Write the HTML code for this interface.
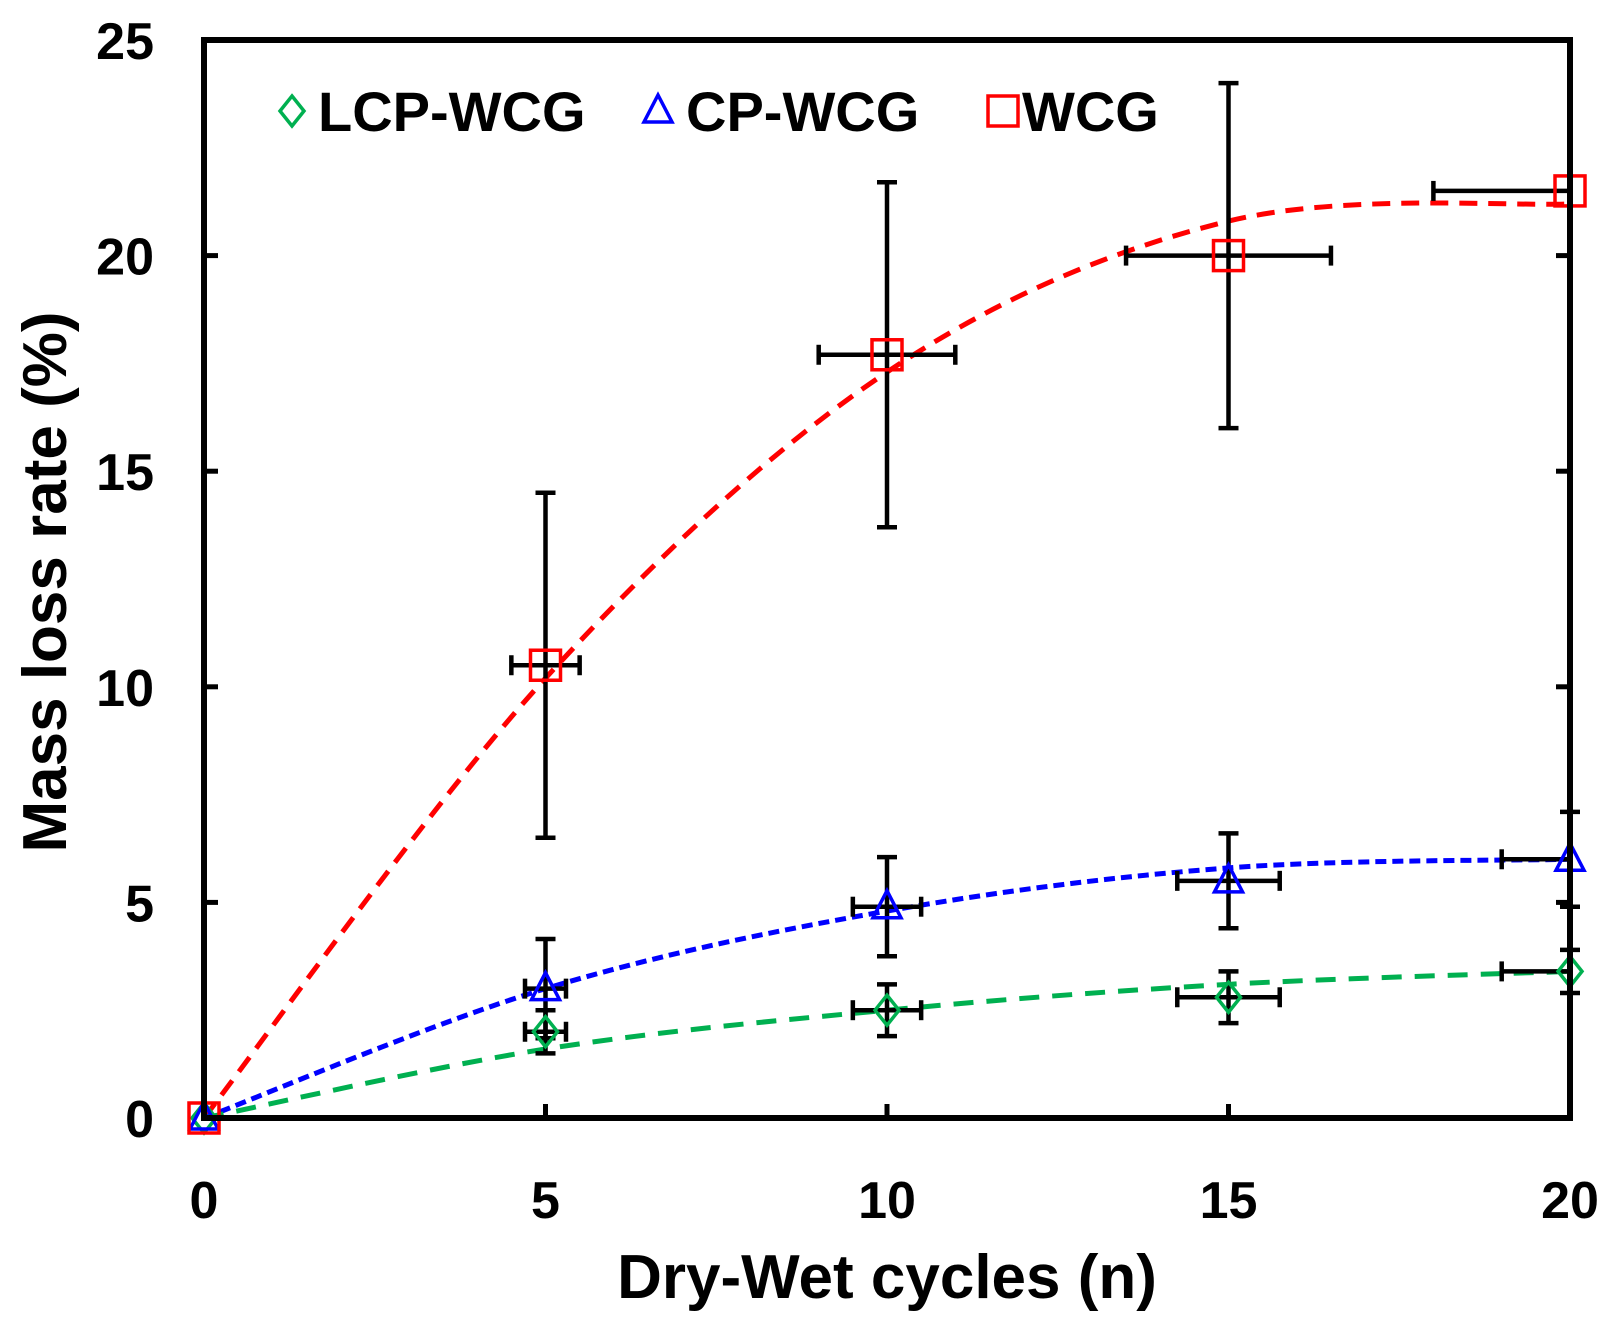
<!DOCTYPE html>
<html><head><meta charset="utf-8"><style>
html,body{margin:0;padding:0;background:#fff}
svg{display:block;font-family:"Liberation Sans",Arial,sans-serif}
</style></head><body>
<svg id="chart" width="1613" height="1326" viewBox="0 0 1613 1326" xmlns="http://www.w3.org/2000/svg">
<g id="curves"></g>
<g id="errs"></g>
<g id="marks"></g>
<g id="axes"></g>
<g id="legend"></g>
<text x="887" y="1298" text-anchor="middle" font-size="62" font-weight="bold">Dry-Wet cycles (n)</text>
<text transform="translate(66,582) rotate(-90)" text-anchor="middle" font-size="62" font-weight="bold">Mass loss rate (%)</text>
</svg>
<script>
const cycles=[0,5,10,15,20];
const wcg=[0,10.5,17.7,20.0,21.5];
const wcgYErr=[0,4.0,4.0,4.0,0];
const wcgXErr=[0,0.5,1.0,1.5,2.0];
const cp=[0,3.0,4.9,5.5,6.0];
const cpYErr=[0,1.15,1.15,1.1,1.1];
const cpXErr=[0,0.3,0.5,0.75,1.0];
const lcp=[0,2.0,2.5,2.8,3.4];
const lcpYErr=[0,0.5,0.6,0.6,0.5];
const lcpXErr=[0,0.3,0.5,0.75,1.0];
const wcgFit=[0,10.2,17.3,20.8,21.2];
const cpFit=[0,3.0,4.8,5.8,6.0];
const lcpFit=[0,1.6,2.5,3.1,3.4];
const xTicks=[0,5,10,15,20];
const yTicks=[0,5,10,15,20,25];

const X0=204,X1=1570,Y0=1118,Y1=40;
const sx=v=>X0+(X1-X0)*v/20;
const sy=v=>Y0-(Y0-Y1)*v/25;
const NS="http://www.w3.org/2000/svg";
function mk(tag,attrs,parent){const e=document.createElementNS(NS,tag);for(const k in attrs)e.setAttribute(k,attrs[k]);parent.appendChild(e);return e;}
const curves=document.getElementById('curves'),errs=document.getElementById('errs'),marks=document.getElementById('marks'),axes=document.getElementById('axes'),legend=document.getElementById('legend');

function smooth(xs,ys){
  const p=xs.map((x,i)=>[sx(x),sy(ys[i])]);
  let d=`M${p[0][0]},${p[0][1]}`;
  for(let i=0;i<p.length-1;i++){
    const p0=p[i-1]||p[i],p1=p[i],p2=p[i+1],p3=p[i+2]||p2;
    const c1=[p1[0]+(p2[0]-p0[0])/6,p1[1]+(p2[1]-p0[1])/6];
    const c2=[p2[0]-(p3[0]-p1[0])/6,p2[1]-(p3[1]-p1[1])/6];
    d+=` C${c1[0]},${c1[1]} ${c2[0]},${c2[1]} ${p2[0]},${p2[1]}`;
  }
  return d;
}
const series=[
 {name:'wcg',ys:wcg,fit:wcgFit,ye:wcgYErr,xe:wcgXErr,color:'#ff0000',dash:'18 11'},
 {name:'cp',ys:cp,fit:cpFit,ye:cpYErr,xe:cpXErr,color:'#0000ff',dash:'11 6'},
 {name:'lcp',ys:lcp,fit:lcpFit,ye:lcpYErr,xe:lcpXErr,color:'#00b050',dash:'20 13'}
];
series.forEach(s=>{
  const c=mk('path',{d:smooth(cycles,s.fit),fill:'none',stroke:s.color,'stroke-width':5,'stroke-dasharray':s.dash},curves);
  
  
});
series.forEach(s=>{
  cycles.forEach((x,i)=>{
    if(i===0)return;
    const cx=sx(x),cy=sy(s.ys[i]);
    const g=mk('g',{stroke:'#000','stroke-width':4.5},errs);
    
    
    if(s.ye[i]>0){
      const yt=sy(s.ys[i]+s.ye[i]),yb=sy(s.ys[i]-s.ye[i]);
      mk('line',{x1:cx,x2:cx,y1:yt,y2:yb},g);
      mk('line',{x1:cx-10,x2:cx+10,y1:yt,y2:yt},g);
      mk('line',{x1:cx-10,x2:cx+10,y1:yb,y2:yb},g);
    }
    const xl=sx(x-s.xe[i]),xr=Math.min(X1,sx(x+s.xe[i]));
    mk('line',{x1:xl,x2:xr,y1:cy,y2:cy},g);
    mk('line',{x1:xl,x2:xl,y1:cy-10,y2:cy+10},g);
    if(x+s.xe[i]<=20) mk('line',{x1:xr,x2:xr,y1:cy-10,y2:cy+10},g);
  });
});
function marker(kind,cx,cy,parent){
  let e;
  if(kind==='wcg') e=mk('rect',{x:cx-15,y:cy-15,width:30,height:30,fill:'none',stroke:'#ff0000','stroke-width':3.5},parent);
  else if(kind==='cp') e=mk('path',{d:`M${cx},${cy-16} L${cx+14},${cy+11} L${cx-14},${cy+11} Z`,fill:'none',stroke:'#0000ff','stroke-width':3.5},parent);
  else e=mk('path',{d:`M${cx},${cy-15} L${cx+12},${cy} L${cx},${cy+15} L${cx-12},${cy} Z`,fill:'none',stroke:'#00b050','stroke-width':3.5},parent);
  return e;
}
series.slice().reverse().forEach(s=>{
  cycles.forEach((x,i)=>{
    const m=marker(s.name,sx(x),sy(s.ys[i]),marks);
    
    
  });
});
const frame=mk('rect',{x:X0,y:Y1,width:X1-X0,height:Y0-Y1,fill:'none',stroke:'#000','stroke-width':6},axes);


xTicks.forEach(t=>{
  const x=sx(t);
  mk('line',{x1:x,x2:x,y1:Y0,y2:Y0-14,stroke:'#000','stroke-width':5},axes);
  const lb=mk('text',{x:x,y:1218,'text-anchor':'middle','font-size':52,'font-weight':'bold'},axes);
  lb.textContent=t;
  
  
});
yTicks.forEach(t=>{
  const y=sy(t);
  mk('line',{x1:X0,x2:X0+14,y1:y,y2:y,stroke:'#000','stroke-width':5},axes);
  mk('line',{x1:X1,x2:X1-14,y1:y,y2:y,stroke:'#000','stroke-width':5},axes);
  const lb=mk('text',{x:154,y:y+19,'text-anchor':'end','font-size':52,'font-weight':'bold'},axes);
  lb.textContent=t;
  
  
});
const leg=[['lcp',292,'LCP-WCG',318],['cp',658,'CP-WCG',686],['wcg',1003,'WCG',1022]];
leg.forEach(l=>{
  const g=mk('g',{},legend);
  
  
  marker(l[0],l[1],111,g);
  const t=mk('text',{x:l[3],y:131,'font-size':56,'font-weight':'bold'},g);
  t.textContent=l[2];
});
</script>
</body></html>
